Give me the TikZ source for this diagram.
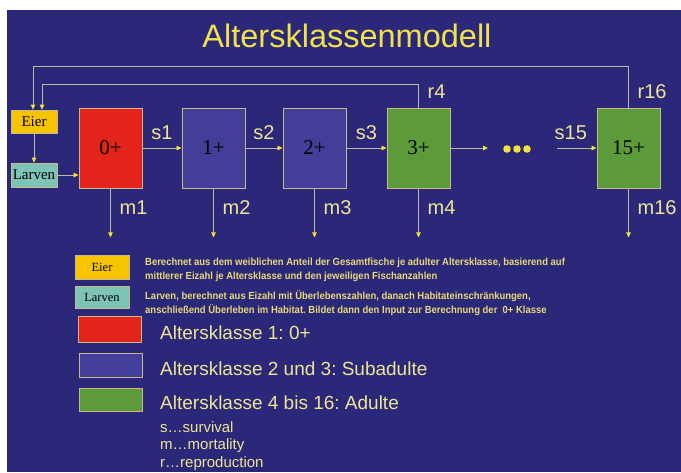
\documentclass[tikz,border=0pt]{standalone}
\usepackage{fontspec}
\setmainfont{Liberation Sans}
\newfontfamily\boxfont{Liberation Serif}
\newfontfamily\descfont[FakeStretch=0.92]{Liberation Sans}
\usetikzlibrary{arrows.meta}
\frenchspacing

\definecolor{bgblue}{RGB}{43,40,122}
\definecolor{titleyellow}{RGB}{240,226,72}
\definecolor{lblyellow}{RGB}{238,228,150}
\definecolor{descyellow}{RGB}{232,216,120}
\definecolor{tipyellow}{RGB}{245,225,60}
\definecolor{linegrey}{RGB}{190,184,170}
\definecolor{edgetan}{RGB}{200,185,140}
\definecolor{eiergelb}{RGB}{246,196,0}
\definecolor{larventeal}{RGB}{125,196,182}
\definecolor{klasserot}{RGB}{226,36,26}
\definecolor{klasseblau}{RGB}{67,62,152}
\definecolor{klassegruen}{RGB}{92,154,58}

\tikzset{
  klasse/.style={draw=edgetan, line width=0.9pt, minimum width=63pt, minimum height=80pt, inner sep=0pt, font=\boxfont\fontsize{21}{21}\selectfont},
  stadium/.style={draw=edgetan, line width=0.8pt, minimum width=46pt, minimum height=23pt, inner sep=0pt, font=\boxfont\fontsize{15}{15}\selectfont},
  legbox/.style={draw=edgetan, line width=0.8pt, minimum width=63pt, minimum height=24pt, inner sep=0pt},
  conn/.style={draw=linegrey, line width=0.8pt, -{Triangle[length=5pt,width=4.5pt,color=tipyellow]}},
  lbl/.style={text=lblyellow, inner sep=0pt, font=\fontsize{20}{20}\selectfont},
  legtext/.style={text=lblyellow, inner sep=0pt, anchor=west, font=\fontsize{19}{19}\selectfont},
  desc/.style={text=descyellow, inner sep=0pt, anchor=north west, align=left, font=\descfont\bfseries\fontsize{10.3}{14}\selectfont},
}

\begin{document}
\begin{tikzpicture}[x=1pt,y=-1pt]
    \useasboundingbox (0,0) rectangle (681,472);
    \fill[bgblue] (7,10) rectangle (681,472);

    \node[text=titleyellow, font=\fontsize{32.5}{32.5}\selectfont] (titel) at (347,36) {Altersklassenmodell};

    % Stadien und Altersklassen
    \node[stadium, fill=eiergelb] (eier) at (34,121.5) {Eier};
    \node[stadium, fill=larventeal, minimum height=24pt] (larven) at (34,175) {Larven};
    \node[klasse, fill=klasserot] (k0) at (110.5,148) {0+};
    \node[klasse, fill=klasseblau] (k1) at (213.5,148) {1+};
    \node[klasse, fill=klasseblau] (k2) at (314.5,148) {2+};
    \node[klasse, fill=klassegruen] (k3) at (418.5,148) {3+};
    \node[klasse, fill=klassegruen] (k15) at (628.5,148) {15+};
    \foreach \x in {507,517,527}
        \fill[tipyellow] (\x,149) circle (3.8);
    \coordinate (luecke1) at (488,148);
    \coordinate (luecke2) at (557,148);

    % Uebergaenge
    \draw[conn] (eier) -- (larven);
    \draw[conn] (larven.east) -- (larven.east -| k0.west);
    \draw[conn] (k0) -- (k1) node[lbl, midway, above=8pt] (s1) {s1};
    \draw[conn] (k1) -- (k2) node[lbl, midway, above=8pt] (s2) {s2};
    \draw[conn] (k2) -- (k3) node[lbl, midway, above=8pt] (s3) {s3};
    \draw[conn] (k3) -- (luecke1);
    \draw[conn] (luecke2) -- (k15) node[lbl, pos=0.35, above=8pt] (s15) {s15};

    % Reproduktion
    \draw[conn] (k15.north) -- ++(0,-41) -| ([xshift=-1pt]eier.north);
    \draw[conn] (k3.north) -- ++(0,-23) -| ([xshift=8pt]eier.north);
    \node[lbl, anchor=west] (r4) at ([shift={(9,-16)}]k3.north) {r4};
    \node[lbl, anchor=west] (r16) at ([shift={(9,-16)}]k15.north) {r16};

    % Mortalitaet
    \foreach \k/\m in {k0/m1, k1/m2, k2/m3, k3/m4, k15/m16}{
        \draw[conn] (\k.south) -- ++(0,49);
        \node[lbl, anchor=west] (\m) at ([shift={(9,19)}]\k.south) {\m};
    }

    % Legende
    \node[legbox, fill=eiergelb, minimum width=54pt, font=\boxfont\fontsize{12.5}{12.5}\selectfont] (legeier) at (102,267) {Eier};
    \node[legbox, fill=larventeal, minimum width=54pt, minimum height=22pt, font=\boxfont\fontsize{12.5}{12.5}\selectfont] (leglarven) at (102,297) {Larven};
    \node[legbox, fill=klasserot, minimum height=26pt] (legrot) at (110,329) {};
    \node[legbox, fill=klasseblau] (legblau) at (110.5,365) {};
    \node[legbox, fill=klassegruen, minimum height=23pt] (leggruen) at (110.5,399.5) {};

    \node[desc] (desceier) at (145,258) {Berechnet aus dem weiblichen Anteil der Gesamtfische je adulter Altersklasse, basierend auf\\mittlerer Eizahl je Altersklasse und den jeweiligen Fischanzahlen};
    \node[desc] (desclarven) at (145,290) {Larven, berechnet aus Eizahl mit Überlebenszahlen, danach Habitateinschränkungen,\\anschließend Überleben im Habitat. Bildet dann den Input zur Berechnung der~ 0+ Klasse};
    \node[legtext] (textrot) at (160,333) {Altersklasse 1: 0+};
    \node[legtext] (textblau) at (160,369) {Altersklasse 2 und 3: Subadulte};
    \node[legtext] (textgruen) at (160,403) {Altersklasse 4 bis 16: Adulte};
    \node[text=lblyellow, inner sep=0pt, anchor=north west, align=left, font=\fontsize{15}{17.5}\selectfont] (kuerzel) at (160,421) {s…survival\\m…mortality\\r…reproduction};
\end{tikzpicture}
\end{document}
